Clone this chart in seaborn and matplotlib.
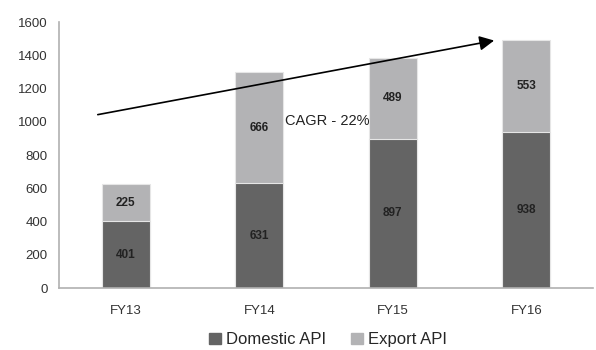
import matplotlib
matplotlib.use("Agg")
import matplotlib.pyplot as plt
from matplotlib.patches import Patch
import pandas as pd
import seaborn as sns

years = ["FY13", "FY14", "FY15", "FY16"]
domestic = [401, 631, 897, 938]
export = [225, 666, 489, 553]

dom_color = "#646464"
exp_color = "#b3b3b5"

sns.set_style("white")
plt.rcParams['font.family'] = ['Liberation Sans', 'DejaVu Sans']

df = pd.DataFrame({"year": years, "domestic": domestic, "export": export})
df["total"] = df["domestic"] + df["export"]

fig = plt.figure(figsize=(5.96, 3.5), dpi=100)
ax = fig.add_axes([0.099, 0.177, 0.896, 0.76])

# total bar first (export on top), then domestic over it
sns.barplot(data=df, x="year", y="total", color=exp_color, width=0.36,
            saturation=1, edgecolor="#e6e6e6", linewidth=0.8, ax=ax)
sns.barplot(data=df, x="year", y="domestic", color=dom_color, width=0.36,
            saturation=1, edgecolor="#e6e6e6", linewidth=0.8, ax=ax)

for i, (d, e) in enumerate(zip(domestic, export)):
    ax.text(i, d / 2, str(d), ha="center", va="center", fontsize=8.5,
            fontweight="bold", color="#222222")
    ax.text(i, d + e / 2, str(e), ha="center", va="center", fontsize=8.5,
            fontweight="bold", color="#222222")

ax.annotate("", xy=(2.78, 1492), xytext=(-0.23, 1040),
            arrowprops=dict(arrowstyle="-|>", color="black", lw=1.2,
                            mutation_scale=22))
ax.text(1.19, 1005, "CAGR - 22%", ha="left", va="center", fontsize=10.5,
        color="#222222")

ax.set_ylim(0, 1600)
ax.set_xlim(-0.5, 3.5)
ax.set_yticks(range(0, 1601, 200))
ax.set_xlabel("")
ax.set_ylabel("")
ax.tick_params(axis="both", labelsize=9.5, colors="#333333", length=0)
ax.tick_params(axis="x", pad=12)
ax.tick_params(axis="y", pad=8)
for s in ["top", "right"]:
    ax.spines[s].set_visible(False)
for s in ["left", "bottom"]:
    ax.spines[s].set_color("#b0b0b0")
    ax.spines[s].set_linewidth(1.2)

handles = [Patch(color=dom_color, label="Domestic API"),
           Patch(color=exp_color, label="Export API")]
fig.legend(handles=handles, loc="lower center", bbox_to_anchor=(0.55, -0.035),
           ncol=2, frameon=False, fontsize=12, handlelength=0.7,
           handleheight=0.7, columnspacing=1.5, handletextpad=0.3)

fig.savefig("out.png", dpi=100)
